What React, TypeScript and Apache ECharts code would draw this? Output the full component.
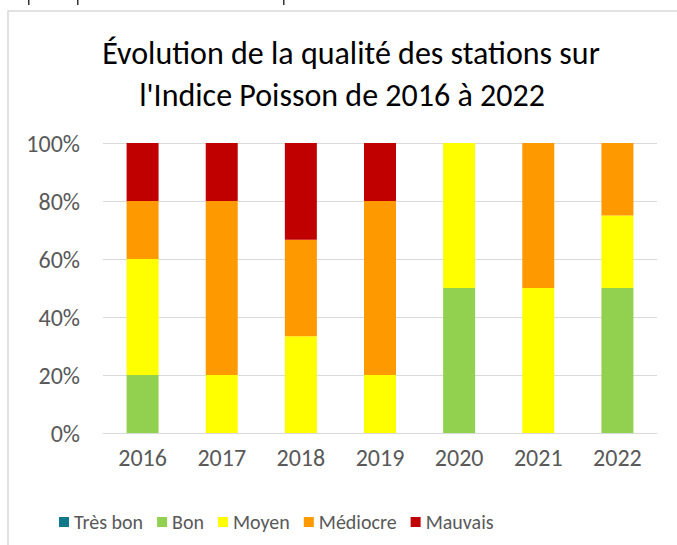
import React, { useEffect, useRef } from "react";
import * as echarts from "echarts";

const years = ["2016", "2017", "2018", "2019", "2020", "2021", "2022"];
const tresBon = [0, 0, 0, 0, 0, 0, 0];
const bon = [20, 0, 0, 0, 50, 0, 50];
const moyen = [40, 20, 33.33, 20, 50, 50, 25];
const mediocre = [20, 60, 33.33, 60, 0, 50, 25];
const mauvais = [20, 20, 33.34, 20, 0, 0, 0];
const seriesNames = ["Très bon", "Bon", "Moyen", "Médiocre", "Mauvais"];
const seriesColors = ["#107A8B", "#92D050", "#FFFF00", "#FF9900", "#C00000"];
const titleLines = ["Évolution de la qualité des stations sur", "l'Indice Poisson de 2016 à 2022"];

const FONT = "Carlito, Lato, sans-serif";

export default function App() {
  const ref = useRef<HTMLDivElement>(null);
  useEffect(() => {
    if (!ref.current) return;
    const chart = echarts.init(ref.current, null, { renderer: "svg" });
    const data = [tresBon, bon, moyen, mediocre, mauvais];
    chart.setOption({
      animation: false,
      backgroundColor: "#ffffff",
      textStyle: { fontFamily: FONT },
      graphic: [
        {
          type: "rect",
          shape: { x: 8, y: 11, width: 720, height: 600 },
          style: { fill: "none", stroke: "#d9d9d9", lineWidth: 1.5 },
          silent: true,
        },
        { type: "rect", shape: { x: 28, y: 0, width: 1.5, height: 5 }, style: { fill: "#333" } },
        { type: "rect", shape: { x: 77, y: 0, width: 1.5, height: 5 }, style: { fill: "#333" } },
        { type: "rect", shape: { x: 283, y: 0, width: 1.5, height: 5 }, style: { fill: "#333" } },
        {
          type: "text",
          x: 351,
          y: 53,
          style: {
            text: titleLines[0],
            fontSize: 32,
            fontFamily: FONT,
            fill: "#000000",
            textAlign: "center",
            textVerticalAlign: "middle",
          },
        },
        {
          type: "text",
          x: 342,
          y: 95,
          style: {
            text: titleLines[1],
            fontSize: 32,
            fontFamily: FONT,
            fill: "#000000",
            textAlign: "center",
            textVerticalAlign: "middle",
          },
        },
      ],
      grid: { left: 103, right: 20, top: 143, bottom: 112, containLabel: false },
      legend: {
        left: 54,
        top: 507,
        itemWidth: 10,
        itemHeight: 10,
        itemGap: 14,
        icon: "rect",
        textStyle: { fontSize: 20, color: "#595959", fontFamily: FONT, padding: [0, 0, 0, 0] },
        data: seriesNames,
      },
      xAxis: {
        type: "category",
        data: years,
        axisLine: { show: true, lineStyle: { color: "#d9d9d9", width: 1 } },
        axisTick: { show: false },
        axisLabel: { color: "#595959", fontSize: 24, margin: 12, fontFamily: FONT },
      },
      yAxis: {
        type: "value",
        min: 0,
        max: 100,
        interval: 20,
        axisLine: { show: false },
        axisTick: { show: false },
        axisLabel: { color: "#595959", fontSize: 24, margin: 23, formatter: "{value}%", fontFamily: FONT },
        splitLine: { lineStyle: { color: "#d9d9d9", width: 1 } },
      },
      series: seriesNames.map((name, i) => ({
        name,
        type: "bar",
        stack: "total",
        barWidth: 32,
        itemStyle: { color: seriesColors[i] },
        data: data[i],
      })),
    });
    return () => chart.dispose();
  }, []);
  return (
    <div
      ref={ref}
      style={{ position: "fixed", left: 0, top: 0, width: 677, height: 545 }}
    />
  );
}
